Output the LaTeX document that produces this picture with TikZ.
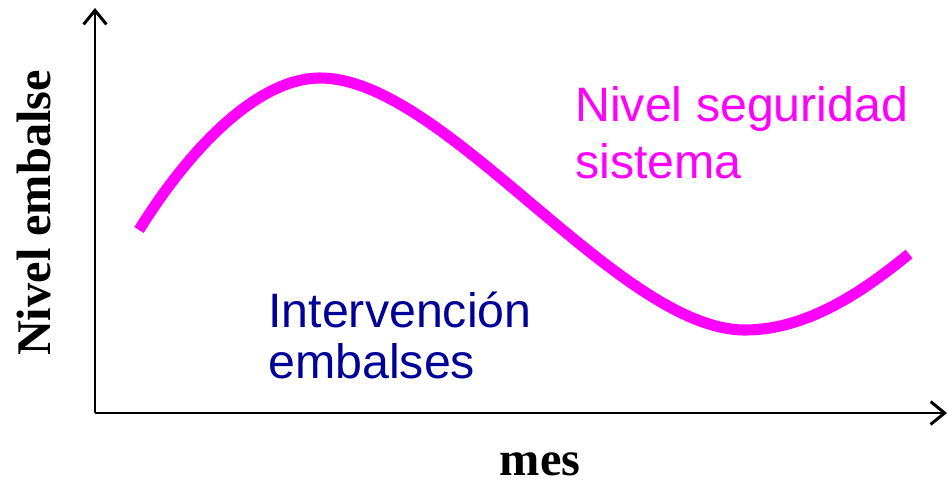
\documentclass[tikz,border=0pt]{standalone}
\usepackage{fontspec}
\setmainfont{Liberation Serif}
\newfontfamily\arialfont{Liberation Sans}
\usetikzlibrary{arrows.meta,positioning}
\definecolor{lcnivel}{RGB}{255,0,255}
\definecolor{lcinter}{RGB}{0,0,153}

\begin{document}
\begin{tikzpicture}[%
    x=0.02cm, y=-0.02cm,        % work in pixels of the sketch, y going down
    >={Straight Barb[length=8pt,width=13pt]}]
% -------------------------------------------------
% A few styles
\tikzset{
  axis/.style={->, draw, black, line width=1.7pt},
  curve/.style={draw, lcnivel, line width=6.3pt},
  axlabel/.style={font={\fontsize{27.5}{30}\selectfont\bfseries}, inner sep=0pt},
  zone/.style={font={\arialfont\fontsize{27.5}{32}\selectfont}, align=left, inner sep=0pt}
}
\useasboundingbox (0,0) rectangle (949,483);
% -------------------------------------------------
% The axes
\coordinate (o) at (95,413);
\coordinate (ytip) at (95,8);
\coordinate (xtip) at (947,413);
\draw [axis] (o) -- (ytip);
\draw [axis] (o) -- (xtip);

\node [axlabel, rotate=90, anchor=base] (ylabel) at (50,213) {Nivel embalse};
\node [axlabel, anchor=base] (xlabel) at (540,475) {mes};

% -------------------------------------------------
% The level curve
\coordinate (c0) at (139,230);
\coordinate (peak) at (320,78);
\coordinate (trough) at (745,330);
\coordinate (c1) at (909,254);
\draw [curve] (c0) .. controls (195,140) and (262,78) .. (peak)
  .. controls (445,78) and (618,330) .. (trough)
  .. controls (808,330) and (865,290) .. (c1);

% -------------------------------------------------
% Zone labels (anchored on the baseline of the last line)
\node [zone, lcnivel, anchor=base west] (seguridad) at (575,178)
  {Nivel seguridad\\sistema};
\node [zone, lcinter, anchor=base west, font={\arialfont\fontsize{27.5}{29}\selectfont}]
  (intervencion) at (268,378) {Intervención\\embalses};
\end{tikzpicture}
\end{document}
